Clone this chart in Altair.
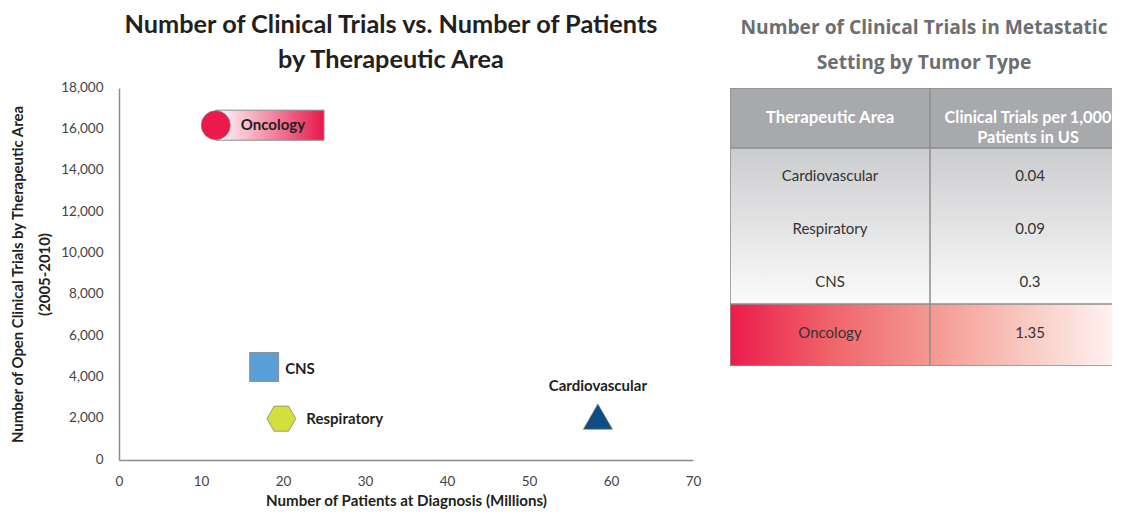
import altair as alt
import pandas as pd

# ---------------- data: scatter ----------------
areas = ["Oncology", "CNS", "Respiratory", "Cardiovascular"]
patients_millions = [11.8, 17.7, 19.8, 58.4]
open_trials = [16200, 4500, 2000, 2100]

x_ticks = [0, 10, 20, 30, 40, 50, 60, 70]
y_ticks = [0, 2000, 4000, 6000, 8000, 10000, 12000, 14000, 16000, 18000]

# ---------------- data: table ----------------
table_areas = ["Cardiovascular", "Respiratory", "CNS", "Oncology"]
trials_per_1000 = ["0.04", "0.09", "0.3", "1.35"]
header_left = "Therapeutic Area"
header_right = ["Clinical Trials per 1,000", "Patients in US"]

# ---------------- styles ----------------
FONT = "Lato"
HEX = "M-1,0L-0.5,-0.866L0.5,-0.866L1,0L0.5,0.866L-0.5,0.866Z"
marker_shapes = ["circle", "square", HEX, "triangle-up"]
marker_colors = ["#ec1a4b", "#5a9fd5", "#d3df3c", "#0d4c85"]
marker_sizes = [841, 841, 900, 961]
label_dx = {"Oncology": 25, "CNS": 21, "Respiratory": 25}
label_dy = {"Oncology": 0, "CNS": 2, "Respiratory": 0}
onc_box_end = 25

scatter_df = pd.DataFrame({"area": areas, "patients": patients_millions, "trials": open_trials})

xs = alt.Scale(domain=[0, 70], nice=False, zero=True, padding=0)
ys = alt.Scale(domain=[0, 18000], nice=False, zero=True, padding=0)

x_enc = alt.X("patients:Q", scale=xs, axis=alt.Axis(
    values=x_ticks, format="d", labelFlush=False,
    title="Number of Patients at Diagnosis (Millions)",
    labelPadding=14, titlePadding=6, titleFontSize=15.1, titleFontWeight="bold"))
y_enc = alt.Y("trials:Q", scale=ys, axis=alt.Axis(
    values=y_ticks, format=",.0f", labelFlush=False, labelOffset=-1,
    title=["Number of Open Clinical Trials by Therapeutic Area", "(2005-2010)"],
    labelPadding=16, titlePadding=8, titleFontSize=14.9, titleFontWeight="bold",
    titleLineHeight=27))

base = alt.Chart(scatter_df)

onc_grad = alt.LinearGradient(
    gradient="linear",
    stops=[alt.GradientStop(offset=0, color="#ffffff"),
           alt.GradientStop(offset=1, color="#e8184a")],
    x1=0, x2=1, y1=0, y2=0)

box = base.transform_filter(alt.datum.area == "Oncology").mark_bar(
    orient="horizontal", size=30, color=onc_grad, stroke="#8a8a8a", strokeWidth=1
).encode(x=x_enc, x2=alt.X2Datum(onc_box_end), y=y_enc)

pts = base.mark_point(filled=True, opacity=1, stroke="#7a7a7a", strokeWidth=1,
                      strokeOpacity=0.7).encode(
    x=x_enc, y=y_enc,
    shape=alt.Shape("area:N", scale=alt.Scale(domain=areas, range=marker_shapes), legend=None),
    color=alt.Color("area:N", scale=alt.Scale(domain=areas, range=marker_colors), legend=None),
    size=alt.Size("area:O", scale=alt.Scale(domain=areas, range=marker_sizes), legend=None),
)

LABEL_SIZE = 15
label_layers = []
for a in ["Oncology", "CNS", "Respiratory"]:
    label_layers.append(
        base.transform_filter(alt.datum.area == a).mark_text(
            align="left", baseline="middle", dx=label_dx[a], dy=label_dy[a],
            font=FONT, fontSize=LABEL_SIZE, fontWeight="bold", color="#231f20"
        ).encode(x=x_enc, y=y_enc, text="area:N"))
label_layers.append(
    base.transform_filter(alt.datum.area == "Cardiovascular").mark_text(
        align="center", baseline="middle", dy=-31,
        font=FONT, fontSize=LABEL_SIZE, fontWeight="bold", color="#231f20"
    ).encode(x=x_enc, y=y_enc, text="area:N"))

left = alt.layer(box, pts, *label_layers).properties(
    width=574, height=372,
    title=alt.TitleParams(
        ["Number of Clinical Trials vs. Number of Patients", "by Therapeutic Area"],
        font=FONT, fontSize=25.3, fontWeight="bold", color="#231f20",
        lineHeight=35, anchor="middle", frame="group", dx=-15, offset=7),
)

# ---------------- table ----------------
header_h, row_h, onc_h = 60, 52, 62
table_h = header_h + 3 * row_h + onc_h
table_w, col_w = 382, 200
x_max = table_w / col_w

tx = alt.Scale(domain=[0, x_max], nice=False, zero=False)
ty = alt.Scale(domain=[0, table_h], reverse=True, nice=False, zero=False)

row_centers = [header_h + row_h * i + 28 + i for i in range(3)] + [header_h + 3 * row_h + 29]
table_df = pd.DataFrame({"area": table_areas, "rate": trials_per_1000, "yc": row_centers})
one = pd.DataFrame({"k": [0]})

body_grad = alt.LinearGradient(
    gradient="linear",
    stops=[alt.GradientStop(offset=0, color="#cbccce"),
           alt.GradientStop(offset=1, color="#fbfbfb")],
    x1=0, x2=0, y1=0, y2=1)
onc_row_grad = alt.LinearGradient(
    gradient="linear",
    stops=[alt.GradientStop(offset=0, color="#ec1c4b"),
           alt.GradientStop(offset=0.25, color="#f0636a"),
           alt.GradientStop(offset=0.5, color="#f4988f"),
           alt.GradientStop(offset=0.75, color="#f9cbc4"),
           alt.GradientStop(offset=1, color="#fffafa")],
    x1=0, x2=1, y1=0, y2=0)


def rect(y0, y1, **kw):
    return alt.Chart(one).mark_rect(clip=True, **kw).encode(
        x=alt.XDatum(0, scale=tx, axis=None), x2=alt.X2Datum(2),
        y=alt.YDatum(y0, scale=ty, axis=None), y2=alt.Y2Datum(y1))


hdr = rect(0, header_h, color="#a7a9ac")
body = rect(header_h, header_h + 3 * row_h, color=body_grad)
onc_row = rect(header_h + 3 * row_h, table_h, color=onc_row_grad)
border = rect(0, table_h, fill="transparent", stroke="#8e8e8e", strokeWidth=1.5)

line_color = "#8e8e8e"
vdiv = alt.Chart(one).mark_rule(color=line_color, strokeWidth=1.5).encode(
    x=alt.XDatum(1, scale=tx, axis=None), y=alt.YDatum(0, scale=ty, axis=None),
    y2=alt.Y2Datum(table_h))
hlines = [alt.Chart(one).mark_rule(color=line_color, strokeWidth=1.5, clip=True).encode(
    x=alt.XDatum(0, scale=tx, axis=None), x2=alt.X2Datum(2),
    y=alt.YDatum(yv, scale=ty, axis=None)) for yv in [header_h, header_h + 3 * row_h]]

hdr_txt1 = alt.Chart(one).mark_text(
    text=header_left, font=FONT, fontSize=16.8, fontWeight="bold", color="#ffffff",
    align="center", baseline="middle").encode(
    x=alt.XDatum(0.5, scale=tx, axis=None), y=alt.YDatum(header_h / 2, scale=ty, axis=None))
hdr_txt2 = alt.Chart(one).mark_text(
    text=header_right, font=FONT, fontSize=16.3, fontWeight="bold", color="#ffffff",
    align="center", baseline="middle", lineHeight=20, clip=True).encode(
    x=alt.XDatum(1.49, scale=tx, axis=None), y=alt.YDatum(header_h / 2, scale=ty, axis=None))

BODY_SIZE = 15
tbase = alt.Chart(table_df)
col1 = tbase.mark_text(font=FONT, fontSize=BODY_SIZE, color="#333333", align="center",
                       baseline="middle").encode(
    x=alt.XDatum(0.5, scale=tx, axis=None),
    y=alt.Y("yc:Q", scale=ty, axis=None), text="area:N")
col2 = tbase.mark_text(font=FONT, fontSize=BODY_SIZE, color="#333333", align="center",
                       baseline="middle").encode(
    x=alt.XDatum(1.5, scale=tx, axis=None),
    y=alt.Y("yc:Q", scale=ty, axis=None), text="rate:N")

right = alt.layer(hdr, body, onc_row, *hlines, vdiv, border, hdr_txt1, hdr_txt2,
                  col1, col2).properties(
    width=table_w, height=table_h,
    title=alt.TitleParams(
        ["Number of Clinical Trials in Metastatic", "Setting by Tumor Type"],
        font="Open Sans", fontSize=19.2, fontWeight="bold", color="#6d6e71",
        lineHeight=35, anchor="middle", frame="group", dx=3, offset=14),
)

chart = alt.hconcat(left, right, spacing=29).properties(
    padding={"left": 2, "top": 4, "right": 0, "bottom": 0}
).configure_view(strokeWidth=0).configure_axis(
    domain=True, domainColor="#8c8c8c", domainWidth=1.5, ticks=False, grid=False,
    labelFont=FONT, labelFontSize=13.5, labelColor="#444444",
    titleFont=FONT, titleColor="#231f20",
)

chart.save("out.html", embed_options={"renderer": "svg", "actions": False})
